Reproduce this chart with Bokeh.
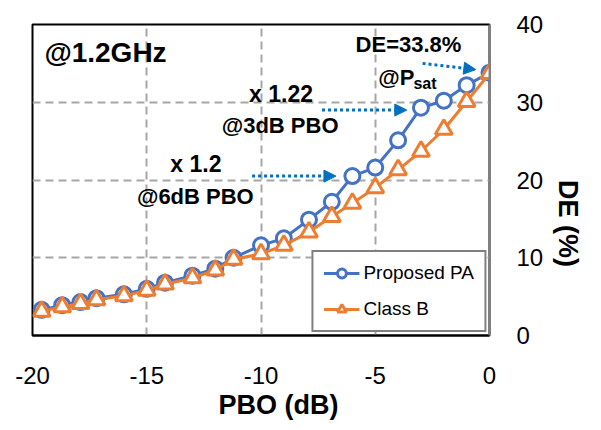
import math
from bokeh.plotting import figure
from bokeh.models import Range1d, FixedTicker, Arrow, NormalHead, Title
from bokeh.core.properties import value
from bokeh.embed import file_html
from bokeh.resources import INLINE

pbo = [-19.6, -18.7, -17.9, -17.2, -16.0, -15.0, -14.2, -13.0, -12.0, -11.2, -10.0,
       -9.0, -7.9, -6.9, -6.0, -5.0, -4.0, -3.0, -2.0, -1.0, 0.0]
proposed = [3.3, 3.9, 4.3, 4.8, 5.3, 6.0, 6.8, 7.7, 8.6, 10.0, 11.6,
            12.5, 14.9, 17.2, 20.5, 21.6, 25.1, 29.3, 30.2, 32.2, 33.8]
class_b = [3.1, 3.7, 4.1, 4.6, 5.1, 5.8, 6.6, 7.4, 8.4, 9.8, 10.5,
           11.6, 13.3, 15.3, 17.0, 19.0, 21.3, 23.7, 26.5, 30.1, 33.7]
x_ticks = [-20, -15, -10, -5, 0]
x_tick_labels = ["-20", "-15", "-10", "-5", "0"]
y_ticks = [0, 10, 20, 30, 40]

FONT = "Liberation Sans"
BLUE = "#4472C4"
ORANGE = "#ED7D31"
ARROW = "#0070C0"

p = figure(width=601, height=430, x_range=Range1d(-20, 0), y_range=Range1d(0, 40),
           output_backend="svg", toolbar_location=None, y_axis_location="right",
           min_border_left=32, min_border_right=103, min_border_top=24, min_border_bottom=95)

p.outline_line_color = "black"
p.outline_line_width = 2
p.background_fill_color = "white"
p.border_fill_color = "white"

# grid
p.xgrid.ticker = FixedTicker(ticks=[-15, -10, -5])
p.ygrid.ticker = FixedTicker(ticks=[10, 20, 30])
for g in (p.xgrid, p.ygrid):
    g.grid_line_color = "#A6A6A6"
    g.grid_line_width = 2
    g.grid_line_dash = "8 5"

# x axis
xa = p.xaxis[0]
xa.ticker = FixedTicker(ticks=x_ticks)
xa.major_label_overrides = {t: s for t, s in zip(x_ticks, x_tick_labels)}
xa.major_tick_line_color = None
xa.minor_tick_line_color = None
xa.major_tick_out = 0
xa.major_tick_in = 0
xa.minor_tick_out = 0
xa.axis_line_color = "black"
xa.axis_line_width = 2
xa.major_label_standoff = 31
xa.major_label_text_font = FONT
xa.major_label_text_font_size = "24px"
xa.major_label_text_color = "black"

# y axis (right)
ya = p.yaxis[0]
ya.ticker = FixedTicker(ticks=y_ticks)
ya.major_tick_line_color = None
ya.minor_tick_line_color = None
ya.major_tick_out = 0
ya.major_tick_in = 0
ya.minor_tick_out = 0
ya.axis_line_color = "#808080"
ya.axis_line_width = 2
ya.major_label_standoff = 27
ya.major_label_text_font = FONT
ya.major_label_text_font_size = "24px"
ya.major_label_text_color = "black"
ya.axis_label = "DE (%)"
ya.axis_label_orientation = -math.pi / 2
ya.axis_label_text_font = FONT
ya.axis_label_text_font_style = "bold"
ya.axis_label_text_font_size = "27px"
ya.axis_label_text_color = "black"
ya.axis_label_standoff = 22

# x axis title
p.add_layout(Title(text="PBO (dB)", align="left", offset=186, text_font=FONT,
                   text_font_style="bold", text_font_size="27px", text_color="black",
                   standoff=3), "below")

# series
p.line(pbo, proposed, line_color=BLUE, line_width=3, legend_label="Proposed PA")
p.scatter(pbo, proposed, marker="circle", size=15, line_color=BLUE, line_width=3,
          fill_color="white", legend_label="Proposed PA")
p.line(pbo, class_b, line_color=ORANGE, line_width=3, legend_label="Class B")
p.scatter(pbo, class_b, marker="triangle", size=17, line_color=ORANGE, line_width=3,
          fill_color="white", legend_label="Class B")

# annotations
def txt(x, y, t, size, bold=True):
    p.text(x=[x], y=[y], text=[t], text_font=value(FONT), text_font_size=size,
           text_font_style="bold" if bold else "normal", text_color="black",
           text_align="left", text_baseline="middle")

txt(-19.48, 36.4, "@1.2GHz", "28px")
txt(-10.52, 31.1, "x 1.22", "23px")
txt(-11.72, 27.0, "@3dB PBO", "22px")
txt(-13.97, 22.0, "x 1.2", "23px")
txt(-15.43, 17.9, "@6dB PBO", "22px")
txt(-5.86, 37.4, "DE=33.8%", "22px")
txt(-4.87, 33.2, "@P", "22px")
txt(-3.33, 32.4, "sat", "16px")

for (xs, ys, xe, ye) in [(-10.39, 20.5, -6.72, 20.5), (-7.33, 29.0, -3.62, 29.0), (-2.93, 35.0, -0.6, 34.2)]:
    p.add_layout(Arrow(x_start=xs, y_start=ys, x_end=xe, y_end=ye,
                       line_color=ARROW, line_width=3, line_dash="3 3",
                       end=NormalHead(size=12, fill_color=ARROW, line_color=ARROW, line_width=1)))

lg = p.legend[0]
lg.location = "bottom_right"
lg.margin = 3
lg.padding = 10
lg.spacing = 14
lg.glyph_height = 22
lg.glyph_width = 36
lg.label_standoff = 4
lg.label_text_font = FONT
lg.label_text_font_size = "19px"
lg.label_text_color = "black"
lg.border_line_color = "black"
lg.border_line_width = 2
lg.background_fill_alpha = 1

open("out.html", "w").write(file_html(p, INLINE))
